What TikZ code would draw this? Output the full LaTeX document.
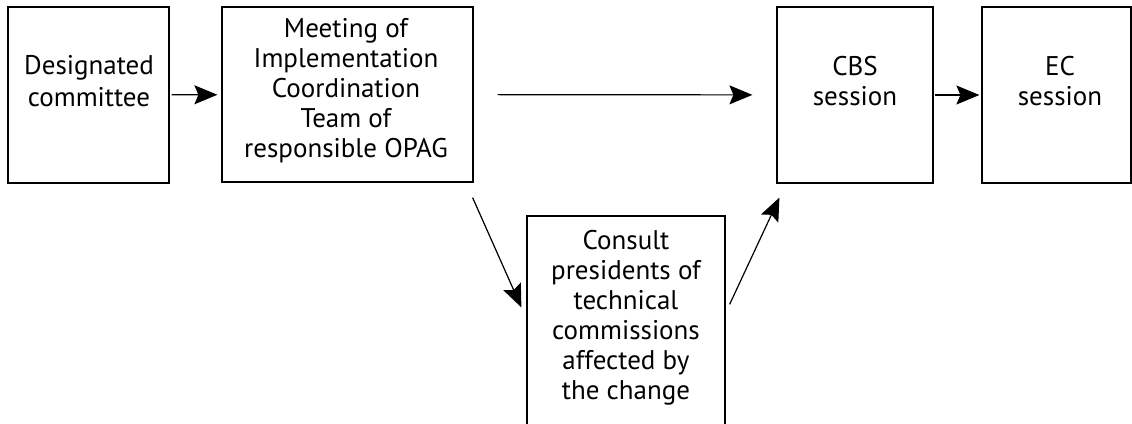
\documentclass[tikz,border=0pt]{standalone}
\usepackage{fontspec}
\setmainfont{PT Sans}
\usetikzlibrary{arrows.meta,calc}
\newcommand{\fs}{\rule{0pt}{20pt}}
\begin{document}
\begin{tikzpicture}[x=1pt,y=-1pt,
  box/.style={draw,line width=1.2pt,inner sep=0pt,rectangle},
  txt/.style={align=center,anchor=north,inner sep=0pt,font=\fontsize{27}{30}\selectfont},
  txtb/.style={txt,font=\fontsize{27}{32}\selectfont},
  arr/.style={line width=1.2pt,-{Stealth[length=23pt,width=19pt,inset=4pt]}}]
\useasboundingbox (0,0) rectangle (1132,423);
\clip (0,0) rectangle (1132,423);
\node[box,minimum width=161pt,minimum height=176pt] (b1) at (88.5,95) {};
\node[box,minimum width=251pt,minimum height=175pt] (b2) at (347.5,94.5) {};
\node[box,minimum width=156pt,minimum height=176pt] (b3) at (855,95) {};
\node[box,minimum width=149pt,minimum height=176pt] (b4) at (1056.5,95) {};
\node[box,minimum width=198pt,minimum height=244pt] (b5) at (626,338) {};
\node[txtb] (t1) at (89,54) {\fs Designated\\committee};
\node[txt] (t2) at (346,17) {\fs Meeting of\\Implementation\\Coordination\\Team of\\responsible OPAG};
\node[txt] (t3) at (855,55) {\fs CBS\\session};
\node[txt] (t4) at (1060,55) {\fs EC\\session};
\node[txt] (t5) at (626,229) {\fs Consult\\presidents of\\technical\\commissions\\affected by\\the change};
\draw[arr,shorten <=2pt,shorten >=4pt] (b1) -- (b2);
\draw[arr,shorten <=24pt,shorten >=24pt] (b2) -- (b3);
\draw[arr,shorten <=1pt,shorten >=2pt] (b3) -- (b4);
\draw[arr] ($(b2.south east)+(-1,15)$) coordinate (d1s) -- ($(b5.north west)+(-5,92)$) coordinate (d1e);
\draw[arr] ($(b5.north east)+(4,89)$) coordinate (d2s) -- ($(b3.south west)+(3,14)$) coordinate (d2e);
\end{tikzpicture}
\end{document}
